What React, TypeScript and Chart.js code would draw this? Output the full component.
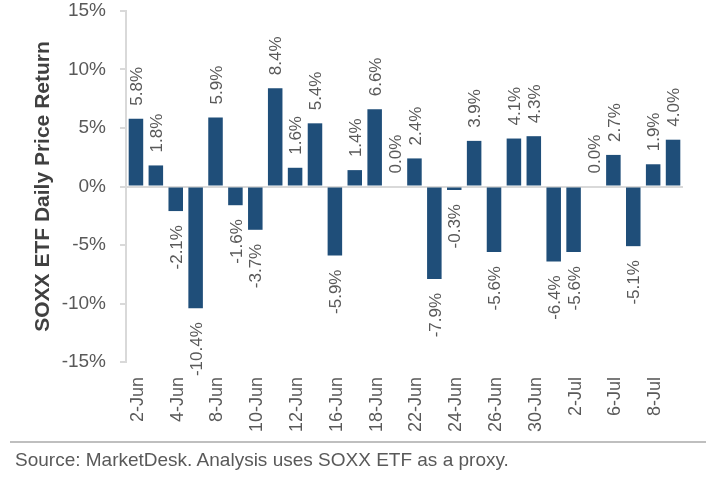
import { useEffect, useRef } from "react"
import { Chart, registerables } from "chart.js"

Chart.register(...registerables)

const dates = [
  "2-Jun", "3-Jun", "4-Jun", "5-Jun", "8-Jun", "9-Jun", "10-Jun", "11-Jun", "12-Jun", "15-Jun",
  "16-Jun", "17-Jun", "18-Jun", "19-Jun", "22-Jun", "23-Jun", "24-Jun", "25-Jun", "26-Jun", "29-Jun",
  "30-Jun", "1-Jul", "2-Jul", "3-Jul", "6-Jul", "7-Jul", "8-Jul", "9-Jul",
]
const returns = [
  5.8, 1.8, -2.1, -10.4, 5.9, -1.6, -3.7, 8.4, 1.6, 5.4,
  -5.9, 1.4, 6.6, 0.0, 2.4, -7.9, -0.3, 3.9, -5.6, 4.1,
  4.3, -6.4, -5.6, 0.0, 2.7, -5.1, 1.9, 4.0,
]

const textColor = "#595959"
const axisColor = "#d9d9d9"
const fontFamily = '"Liberation Sans", Arial, sans-serif'

// rotated value labels at the outer end of each bar
const barLabels = {
  id: "barLabels",
  afterDatasetsDraw(chart: Chart) {
    const { ctx } = chart
    const bars = chart.getDatasetMeta(0).data
    ctx.save()
    ctx.fillStyle = textColor
    ctx.font = `17px ${fontFamily}`
    ctx.textBaseline = "middle"
    bars.forEach((bar: any, i: number) => {
      const v = returns[i]
      ctx.save()
      ctx.translate(bar.x, v < 0 ? bar.y + 14 : bar.y - 13)
      ctx.rotate(-Math.PI / 2)
      ctx.textAlign = v < 0 ? "right" : "left"
      ctx.fillText(`${v.toFixed(1)}%`, 0, 1.5)
      ctx.restore()
    })
    ctx.restore()
  },
}

export default function App() {
  const chartRef = useRef<HTMLCanvasElement>(null)

  useEffect(() => {
    document.body.style.margin = "0"
    if (!chartRef.current) return

    const chart = new Chart(chartRef.current, {
      type: "bar",
      data: {
        labels: dates,
        datasets: [
          {
            data: returns,
            backgroundColor: "#1f4e79",
            barPercentage: 0.73,
            categoryPercentage: 1,
          },
        ],
      },
      plugins: [barLabels],
      options: {
        animation: false,
        responsive: false,
        layout: { padding: { left: 0, right: 35, top: 11, bottom: 0 } },
        plugins: { legend: { display: false }, tooltip: { enabled: false } },
        scales: {
          x: {
            afterFit: (scale: any) => {
              scale.height = 115
              scale.paddingLeft = 0
              scale.paddingRight = 0
            },
            border: { display: false },
            grid: { display: false },
            ticks: {
              autoSkip: false,
              minRotation: 90,
              maxRotation: 90,
              padding: 7,
              labelOffset: 2,
              color: textColor,
              font: { family: fontFamily, size: 18 },
              callback: (_v: any, i: number) => (i % 2 === 0 ? dates[i] : ""),
            },
          },
          y: {
            min: -15,
            max: 15,
            afterFit: (scale: any) => {
              scale.width = 126
              scale.paddingTop = 0
              scale.paddingBottom = 0
            },
            border: { color: axisColor, width: 2 },
            grid: {
              lineWidth: 2,
              tickLength: 6,
              tickColor: axisColor,
              color: (c: any) => (c.tick.value === 0 ? axisColor : "transparent"),
            },
            ticks: {
              stepSize: 5,
              padding: 14,
              color: textColor,
              font: { family: fontFamily, size: 19 },
              callback: (v: any) => `${v}%`,
            },
            title: {
              display: true,
              text: "SOXX ETF Daily Price Return",
              color: "#404040",
              font: { family: fontFamily, size: 21, weight: "bold" },
              padding: { top: 31, bottom: 0 },
            },
          },
        },
      },
    })

    return () => chart.destroy()
  }, [])

  return (
    <div style={{ position: "relative", width: 718, height: 477, background: "#fff", overflow: "hidden" }}>
      <canvas ref={chartRef} width={718} height={477} style={{ display: "block" }} />
      <div style={{ position: "absolute", left: 10, top: 441, width: 696, height: 2, background: "#bfbfbf" }} />
      <div
        style={{
          position: "absolute",
          left: 15,
          top: 449,
          color: textColor,
          fontFamily,
          fontSize: 19,
          lineHeight: "22px",
          whiteSpace: "nowrap",
        }}
      >
        Source: MarketDesk. Analysis uses SOXX ETF as a proxy.
      </div>
    </div>
  )
}
